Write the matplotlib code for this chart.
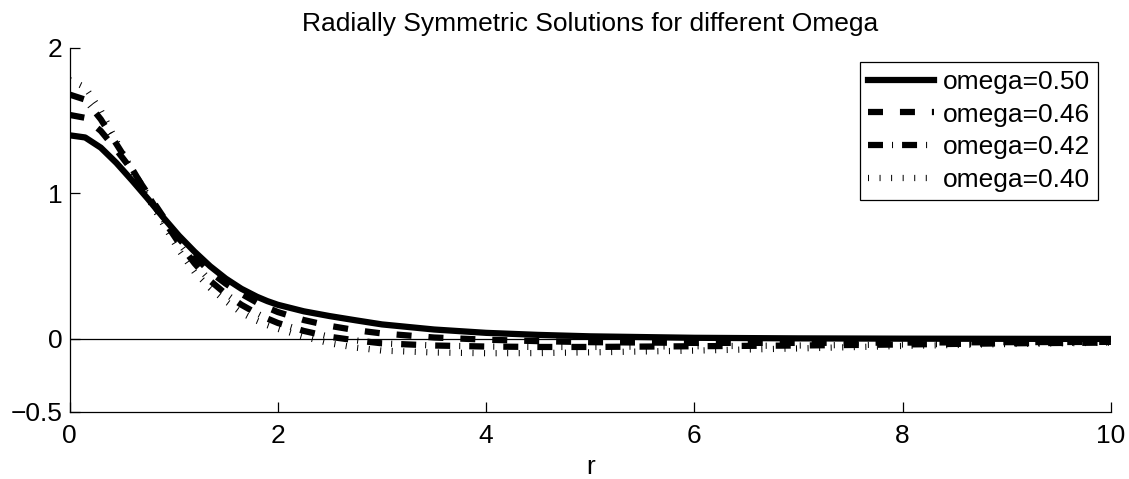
import numpy as np
import matplotlib
matplotlib.use('Agg')
import matplotlib.pyplot as plt

plt.rcParams['font.family'] = ['Liberation Sans', 'DejaVu Sans']
plt.rcParams['lines.scale_dashes'] = False

# radius samples
r = [0, 0.15, 0.3, 0.45, 0.6, 0.75, 0.9, 1.05, 1.2, 1.35, 1.5, 1.65, 1.8,
     1.9, 2.0, 2.25, 2.5, 2.75, 3.0, 3.5, 4.0, 4.5, 5, 6, 7, 8, 9, 10]

# solution profiles for each omega
u_050 = [1.40, 1.385, 1.315, 1.21, 1.09, 0.965, 0.835, 0.71, 0.60, 0.50, 0.415, 0.345, 0.29,
         0.26, 0.235, 0.19, 0.157, 0.128, 0.10, 0.065, 0.042, 0.028, 0.018, 0.008, 0.004, 0.002, 0.001, 0.0]
u_046 = [1.54, 1.52, 1.43, 1.30, 1.16, 1.0, 0.84, 0.69, 0.57, 0.46, 0.38, 0.31, 0.25,
         0.215, 0.185, 0.13, 0.09, 0.06, 0.038, 0.01, -0.005, -0.015, -0.022, -0.027, -0.027, -0.025, -0.022, -0.02]
u_042 = [1.68, 1.645, 1.51, 1.34, 1.17, 0.99, 0.82, 0.66, 0.52, 0.40, 0.31, 0.235, 0.175,
         0.14, 0.11, 0.055, 0.015, -0.01, -0.03, -0.045, -0.052, -0.055, -0.055, -0.05, -0.045, -0.038, -0.03, -0.025]
u_040 = [1.78, 1.73, 1.57, 1.36, 1.15, 0.97, 0.79, 0.61, 0.46, 0.35, 0.26, 0.18, 0.125,
         0.095, 0.07, 0.015, -0.03, -0.06, -0.08, -0.093, -0.098, -0.097, -0.092, -0.08, -0.065, -0.048, -0.035, -0.025]

labels = ['omega=0.50', 'omega=0.46', 'omega=0.42', 'omega=0.40']

fs = 19

fig = plt.figure(figsize=(11.29, 4.79), dpi=100)
ax = fig.add_axes([0.0616, 0.1405, 0.9224, 0.7593])

lw = 4.5
ax.plot(r, u_050, color='black', lw=lw, linestyle='-', label=labels[0])
ax.plot(r, u_046, color='black', lw=lw, linestyle=(0, (10.8, 12.2)), label=labels[1])
ax.plot(r, u_042, color='black', lw=lw, linestyle=(0, (10.8, 6.5, 0.72, 6.5)), label=labels[2])
ax.plot(r, u_040, color='black', lw=lw, linestyle=(0, (0.72, 7.6)), label=labels[3])

ax.axhline(0, color='black', lw=0.9, zorder=0)

ax.set_xlim(0, 10)
ax.set_ylim(-0.5, 2)
ax.set_xticks([0, 2, 4, 6, 8, 10])
ax.set_yticks([-0.5, 0, 1, 2])
ax.set_yticklabels(['\u22120.5', '0', '1', '2'])

ax.spines['top'].set_visible(False)
ax.spines['right'].set_visible(False)
for s in ['left', 'bottom']:
    ax.spines[s].set_linewidth(0.9)
ax.tick_params(direction='in', length=7, width=0.9, labelsize=fs)
ax.tick_params(axis='y', pad=5)
ax.tick_params(axis='x', pad=9)

ax.set_xlabel('r', fontsize=fs, labelpad=5)
ax.set_title('Radially Symmetric Solutions for different Omega', fontsize=fs, pad=12.5)

leg = ax.legend(loc='upper right', bbox_to_anchor=(0.9875, 0.9616), borderaxespad=0,
                fontsize=fs, handlelength=2.5, handletextpad=0.35, labelspacing=0.33,
                borderpad=0.3, fancybox=False, framealpha=1, edgecolor='black')
leg.get_frame().set_linewidth(0.9)

fig.savefig('out.png', dpi=100)
